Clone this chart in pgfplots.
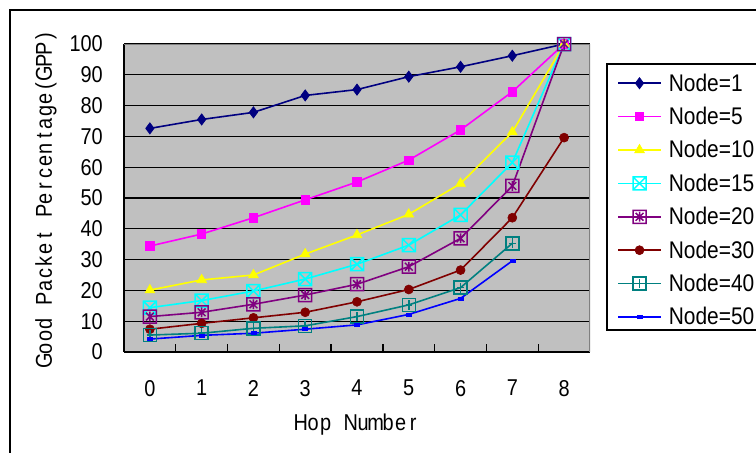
\documentclass[border=0pt]{standalone}
\usepackage{fontspec}
\setmainfont{Liberation Sans}
\usepackage{graphicx}
\usepackage{pgfplots}
\pgfplotsset{compat=1.18}

\definecolor{cN1}{HTML}{000080}
\definecolor{cN5}{HTML}{FF00FF}
\definecolor{cN10}{HTML}{FFFF00}
\definecolor{cN15}{HTML}{00FFFF}
\definecolor{cN20}{HTML}{800080}
\definecolor{cN30}{HTML}{800000}
\definecolor{cN40}{HTML}{008080}
\definecolor{cN50}{HTML}{0000FF}
\definecolor{plotBg}{HTML}{C0C0C0}
\definecolor{frameGray}{HTML}{808080}

% square with a diagonal cross
\pgfdeclareplotmark{boxx}{%
  \pgfpathrectangle{\pgfpoint{-\pgfplotmarksize}{-\pgfplotmarksize}}{\pgfpoint{2\pgfplotmarksize}{2\pgfplotmarksize}}%
  \pgfpathmoveto{\pgfpoint{-\pgfplotmarksize}{-\pgfplotmarksize}}\pgfpathlineto{\pgfpoint{\pgfplotmarksize}{\pgfplotmarksize}}%
  \pgfpathmoveto{\pgfpoint{-\pgfplotmarksize}{\pgfplotmarksize}}\pgfpathlineto{\pgfpoint{\pgfplotmarksize}{-\pgfplotmarksize}}%
  \pgfusepathqstroke}
% square with an asterisk
\pgfdeclareplotmark{boxstar}{%
  \pgfpathrectangle{\pgfpoint{-\pgfplotmarksize}{-\pgfplotmarksize}}{\pgfpoint{2\pgfplotmarksize}{2\pgfplotmarksize}}%
  \pgfpathmoveto{\pgfpoint{-0.6\pgfplotmarksize}{-0.6\pgfplotmarksize}}\pgfpathlineto{\pgfpoint{0.6\pgfplotmarksize}{0.6\pgfplotmarksize}}%
  \pgfpathmoveto{\pgfpoint{-0.6\pgfplotmarksize}{0.6\pgfplotmarksize}}\pgfpathlineto{\pgfpoint{0.6\pgfplotmarksize}{-0.6\pgfplotmarksize}}%
  \pgfpathmoveto{\pgfpoint{0pt}{-0.75\pgfplotmarksize}}\pgfpathlineto{\pgfpoint{0pt}{0.75\pgfplotmarksize}}%
  \pgfusepathqstroke}
% square with a plus
\pgfdeclareplotmark{boxplus}{%
  \pgfpathrectangle{\pgfpoint{-\pgfplotmarksize}{-\pgfplotmarksize}}{\pgfpoint{2\pgfplotmarksize}{2\pgfplotmarksize}}%
  \pgfpathmoveto{\pgfpoint{-0.5\pgfplotmarksize}{0pt}}\pgfpathlineto{\pgfpoint{0.5\pgfplotmarksize}{0pt}}%
  \pgfpathmoveto{\pgfpoint{0pt}{-0.75\pgfplotmarksize}}\pgfpathlineto{\pgfpoint{0pt}{0.75\pgfplotmarksize}}%
  \pgfusepathqstroke}
% small flat bar
\pgfdeclareplotmark{bar}{%
  \pgfpathrectangle{\pgfpoint{-2.5bp}{-1.5bp}}{\pgfpoint{5bp}{3bp}}%
  \pgfusepathqfillstroke}

% fixed-pitch lettering for the axis titles
\newcommand\mc[1]{\makebox[12.5bp]{#1}}
\newcommand\tall[1]{\scalebox{1}[1.15]{#1}}

\begin{document}
\begin{tikzpicture}
\useasboundingbox (0bp,0bp) rectangle (756bp,-453bp);
% chart frame
\draw[black, line width=1.5bp] (10bp,-10bp) rectangle (900bp,-600bp);
% legend frame
\draw[black, line width=1.5bp, fill=white] (607bp,-64bp) rectangle (800bp,-330bp);

\begin{axis}[
  at={(124bp,-352bp)}, anchor=south west,
  scale only axis, width=466bp, height=308bp,
  xmin=-0.5, xmax=8.5, ymin=0, ymax=100,
  axis x line*=bottom, axis y line*=left,
  axis line style={line width=1.6bp, black},
  axis background/.style={fill=plotBg},
  xtick={0,...,8},
  minor xtick={0.5,1.5,...,7.5},
  major x tick style={draw=none},
  minor x tick style={line width=1.3bp, black},
  ytick={0,10,...,100},
  y tick style={line width=1.3bp, black},
  tick align=inside,
  major tick length=8bp, minor tick length=8bp,
  ymajorgrids,
  grid style={black, line width=1.1bp},
  /pgf/number format/assume math mode=true,
  tick label style={font=\fontsize{20}{24}\selectfont, inner sep=0pt},
  yticklabel style={anchor=east, xshift=-21bp, yscale=1.15},
  xticklabel style={anchor=north, yshift=-28bp, yscale=1.15},
  xlabel={\mc{H}\mc{o}\mc{p}\mc{}\mc{N}\mc{u}\mc{m}\mc{b}\mc{e}\mc{r}},
  ylabel={\mc{G}\mc{o}\mc{o}\mc{d}\mc{}\mc{P}\mc{a}\mc{c}\mc{k}\mc{e}\mc{t}\mc{}\mc{P}\mc{e}\mc{r}\mc{c}\mc{e}\mc{n}\mc{t}\mc{a}\mc{g}\mc{e}\mc{(}\mc{G}\mc{P}\mc{P}\mc{)}},
  xlabel style={at={(axis description cs:0.5,-0.237)}, anchor=center, inner sep=0pt, font=\fontsize{20}{24}\selectfont, yscale=1.15},
  ylabel style={at={(axis description cs:-0.1674,0.498)}, anchor=center, inner sep=0pt, font=\fontsize{20}{24}\selectfont, yscale=1.15},
  legend image code/.code={\draw[mark repeat=2, mark phase=2] plot coordinates {(0bp,0bp) (21.5bp,0bp) (43bp,0bp)};},
  legend cell align=left,
  legend style={at={(1.058,0.9276)}, anchor=north west, draw=none, fill=none,
    inner sep=0pt, row sep=0pt,
    nodes={inner sep=0pt, minimum height=33.4bp},
    font=\fontsize{21}{25}\selectfont,
    /tikz/every odd column/.append style={column sep=7bp}},
]
% gray upper and right border of the plot area
\draw[frameGray, line width=1.6bp] (rel axis cs:0,1) -- (rel axis cs:1,1) -- (rel axis cs:1,0);

\addplot[cN1, line width=1.6bp, mark=diamond*, mark size=5.5bp, mark options={fill=cN1, line width=0.8bp}]
  coordinates {(0,72.6) (1,75.5) (2,77.8) (3,83.3) (4,85.2) (5,89.4) (6,92.6) (7,96.2) (8,100)};
\addlegendentry{\tall{Node=1}}
\addplot[cN5, line width=1.6bp, mark=square*, mark size=4.2bp, mark options={fill=cN5, line width=0.8bp}]
  coordinates {(0,34.4) (1,38.3) (2,43.6) (3,49.4) (4,55.2) (5,62.3) (6,72.1) (7,84.5) (8,100)};
\addlegendentry{\tall{Node=5}}
\addplot[cN10, line width=1.6bp, mark=triangle*, mark size=5.5bp, mark options={fill=cN10, line width=0.8bp}]
  coordinates {(0,20.1) (1,23.4) (2,25.0) (3,31.8) (4,38.0) (5,44.7) (6,54.7) (7,71.4) (8,100)};
\addlegendentry{\tall{Node=10}}
\addplot[cN15, line width=1.6bp, mark=boxx, mark size=6.5bp, mark options={line width=1.5bp}]
  coordinates {(0,14.4) (1,16.7) (2,19.8) (3,23.7) (4,28.5) (5,34.7) (6,44.5) (7,61.5) (8,100)};
\addlegendentry{\tall{Node=15}}
\addplot[cN20, line width=1.6bp, mark=boxstar, mark size=6.5bp, mark options={line width=1.5bp}]
  coordinates {(0,11.5) (1,12.9) (2,15.5) (3,18.5) (4,22.0) (5,27.7) (6,36.9) (7,53.9) (8,100)};
\addlegendentry{\tall{Node=20}}
\addplot[cN30, line width=1.6bp, mark=*, mark size=4.5bp, mark options={fill=cN30, line width=0.6bp}]
  coordinates {(0,7.4) (1,9.3) (2,11.1) (3,12.9) (4,16.3) (5,20.3) (6,26.6) (7,43.6) (8,69.6)};
\addlegendentry{\tall{Node=30}}
\addplot[cN40, line width=1.6bp, mark=boxplus, mark size=6.5bp, mark options={line width=1.5bp}]
  coordinates {(0,5.5) (1,6.1) (2,7.7) (3,8.5) (4,11.5) (5,15.3) (6,20.9) (7,35.3)};
\addlegendentry{\tall{Node=40}}
\addplot[cN50, line width=1.6bp, mark=bar, mark options={fill=cN50, line width=0.5bp}]
  coordinates {(0,4.2) (1,5.4) (2,6.1) (3,7.4) (4,8.8) (5,12.2) (6,17.4) (7,29.6)};
\addlegendentry{\tall{Node=50}}
\end{axis}
\end{tikzpicture}
\end{document}
